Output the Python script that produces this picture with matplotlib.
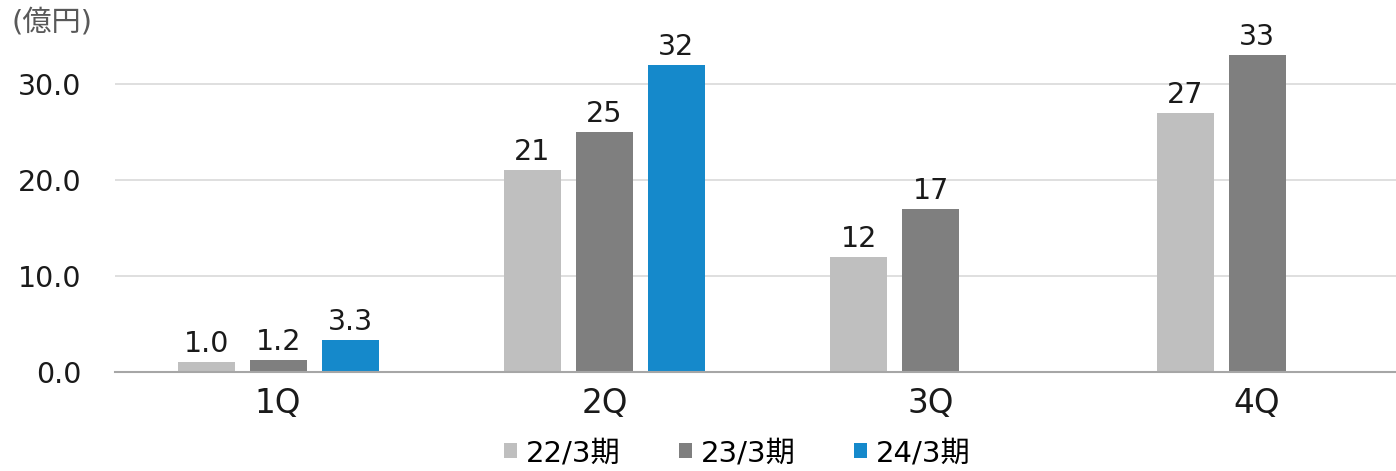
import matplotlib
matplotlib.use("Agg")
import matplotlib.pyplot as plt
import numpy as np

plt.rcParams['font.family'] = ['DejaVu Sans', 'Noto Sans CJK JP']

categories = ["1Q", "2Q", "3Q", "4Q"]
series_names = ["22/3期", "23/3期", "24/3期"]
s22 = [1.0, 21, 12, 27]
s23 = [1.2, 25, 17, 33]
s24 = [3.3, 32, None, None]
labels22 = ["1.0", "21", "12", "27"]
labels23 = ["1.2", "25", "17", "33"]
labels24 = ["3.3", "32", "", ""]
yticks = [0, 10, 20, 30]
ytick_labels = ["0.0", "10.0", "20.0", "30.0"]
colors = ["#BFBFBF", "#7F7F7F", "#1589CB"]

fig = plt.figure(figsize=(13.96, 4.71), dpi=100)
ax = fig.add_axes([115/1396, 1-372/471, 1-115/1396, (372-36)/471])

x = np.arange(len(categories))
bw = 57/326.3
step = 72/326.3
offsets = [-step, 0, step]
for i, (vals, labs) in enumerate(zip([s22, s23, s24], [labels22, labels23, labels24])):
    xs = [xx + offsets[i] for xx, v in zip(x, vals) if v is not None]
    vs = [v for v in vals if v is not None]
    ls = [l for l, v in zip(labs, vals) if v is not None]
    bars = ax.bar(xs, vs, width=bw, color=colors[i], label=series_names[i], zorder=3)
    ax.bar_label(bars, labels=ls, padding=3, fontsize=20.5, color="#1a1a1a")

ax.set_xlim(-0.5, -0.5 + 1281/326.3)
ax.set_ylim(0, 35)
ax.set_yticks(yticks)
ax.set_yticklabels(ytick_labels, fontsize=20.5, color="#1a1a1a")
ax.set_xticks(x)
ax.set_xticklabels(categories, fontsize=23.5, color="#1a1a1a")
ax.tick_params(axis='y', length=0, pad=24)
ax.tick_params(axis='x', length=0, pad=11)
ax.grid(axis='y', color="#D9D9D9", linewidth=1.2, zorder=0)
for s in ["top", "right", "left"]:
    ax.spines[s].set_visible(False)
ax.spines["bottom"].set_color("#A6A6A6")
ax.spines["bottom"].set_linewidth(1.5)
ax.spines["bottom"].set_zorder(4)

fig.text(11/1396, 1-23/471, "(億円)", fontsize=21, color="#595959", va="center", ha="left")

fig.legend(loc="center", bbox_to_anchor=(737/1396, 1-453/471), ncol=3, frameon=False,
           fontsize=21, handlelength=0.45, handleheight=0.45, handletextpad=0.3, columnspacing=2.0)

fig.savefig("out.png", dpi=100)
